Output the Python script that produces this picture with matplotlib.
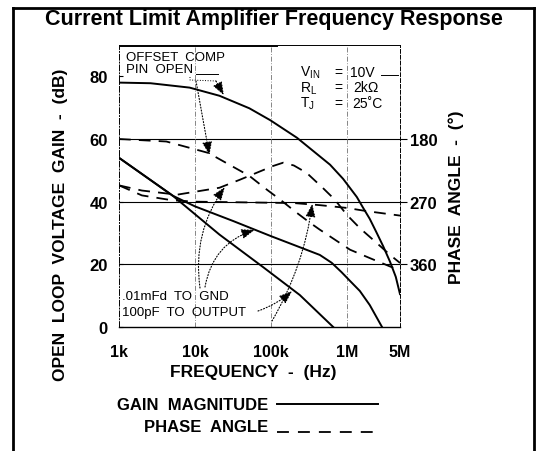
import matplotlib
matplotlib.use('Agg')
import matplotlib.pyplot as plt
from matplotlib.lines import Line2D
from matplotlib.ticker import NullLocator

plt.rcParams['font.family'] = ['Liberation Sans', 'DejaVu Sans']

# gain magnitude (dB)
freq_gain_open = [1e3, 2.6e3, 8.5e3, 21e3, 52e3, 98e3, 220e3, 600e3, 890e3,
                  1.35e6, 1.62e6, 2.0e6, 2.45e6, 3.0e6, 3.7e6, 4.4e6, 5.0e6]
gain_open = [78, 77.8, 76.4, 73.8, 69.8, 66.0, 60.4, 51.8, 47.3,
             41.5, 38.2, 34.5, 30.2, 25.8, 20.8, 16.0, 10.5]
freq_gain_100pf = [1e3, 5.1e3, 21e3, 80e3, 240e3, 660e3]
gain_100pf = [54, 41.9, 29.5, 19.0, 10.2, 0]
freq_gain_01mfd = [1e3, 5.1e3, 10e3, 32e3, 100e3, 200e3, 440e3, 630e3, 850e3,
                   1.12e6, 1.48e6, 2.0e6, 2.9e6]
gain_01mfd = [54, 41.9, 38.5, 33.8, 29, 26.2, 23, 20.5, 17.5, 14.5, 11.5, 7, 0]

# phase angle (deg)
freq_phase_open = [1e3, 4.2e3, 15e3, 52e3, 89e3, 132e3, 219e3, 324e3, 437e3,
                   1.1e6, 2.0e6, 5e6]
phase_open = [180, 183.6, 200, 233, 253, 267, 286, 300, 310, 339, 351, 369]
freq_phase_100pf = [1e3, 2e3, 5.8e3, 21e3, 39e3, 107e3, 145e3, 200e3, 295e3,
                    479e3, 692e3, 1e6, 1.48e6, 2.45e6, 3.7e6, 5e6]
phase_100pf = [246.6, 254, 260, 250, 238.5, 218.7, 214, 218, 228.6,
               250, 267, 289, 308, 329, 346.5, 358]
freq_phase_01mfd = [1e3, 2e3, 5e3, 10e3, 200e3, 440e3, 1e6, 1.8e6, 5e6]
phase_01mfd = [246.6, 261, 268, 270, 272, 275, 279, 283.5, 290]

xticks = [1e3, 1e4, 1e5, 1e6, 5e6]
xlabels = ['1k', '10k', '100k', '1M', '5M']
yticks = [0, 20, 40, 60, 80]
phase_ticks = [180, 270, 360]

W, H = 539, 452
fig = plt.figure(figsize=(W / 100, H / 100), dpi=100)


def fx(x):
    return x / W


def fy(y):
    return 1 - y / H


def px(x, y):
    return (x, H - y)


ax = fig.add_axes([fx(119), fy(328), 281 / W, 282 / H])
ax.set_xscale('log')
ax.set_xlim(1e3, 5e6)
ax.set_ylim(0, 90)

for g in [20, 40, 60]:
    ax.axhline(g, color='k', lw=0.8, zorder=1)
for f in [1e4, 1e5, 1e6]:
    ax.axvline(f, color='0.45', lw=0.6, ls=(0, (6, 2, 1, 2)), zorder=1)

ax.plot(freq_gain_open, gain_open, color='k', lw=1.4)
ax.plot(freq_gain_100pf, gain_100pf, color='k', lw=1.4)
ax.plot(freq_gain_01mfd, gain_01mfd, color='k', lw=1.4)

ax.set_xticks(xticks)
ax.set_xticklabels(xlabels, fontsize=11.5, fontweight='bold')
ax.xaxis.set_minor_locator(NullLocator())
ax.tick_params(axis='x', length=0, pad=12)
ax.set_yticks(yticks)
ax.set_yticklabels([str(v) for v in yticks], fontsize=12, fontweight='bold')
ax.tick_params(axis='y', length=3, direction='in', pad=8)

ax.spines['left'].set_linestyle((0, (6, 2, 1, 2)))
ax.spines['left'].set_linewidth(0.7)
ax.spines['right'].set_visible(False)
ax.spines['top'].set_linewidth(0.7)
ax.spines['bottom'].set_linewidth(1.0)

ax2 = ax.twinx()
ax2.set_ylim(450, 45)
ax2.set_xlim(1e3, 5e6)
for s in ['left', 'top', 'bottom']:
    ax2.spines[s].set_visible(False)
ax2.spines['right'].set_linestyle((0, (4, 2)))
ax2.spines['right'].set_linewidth(0.7)

for fr, ph in [(freq_phase_open, phase_open), (freq_phase_100pf, phase_100pf),
               (freq_phase_01mfd, phase_01mfd)]:
    ln, = ax2.plot(fr, ph, color='k', lw=1.3)
    ln.set_dashes((6.5, 4.5))

ax2.set_yticks(phase_ticks)
ax2.set_yticklabels([str(v) for v in phase_ticks], fontsize=12, fontweight='bold')
ax2.tick_params(axis='y', length=5, direction='out', width=0.8, pad=2)

# axis titles
fig.text(fx(274), fy(20), 'Current Limit Amplifier Frequency Response',
         ha='center', va='center', fontsize=15.5, fontweight='bold')
fig.text(fx(61), fy(225), 'OPEN  LOOP  VOLTAGE  GAIN  -  (dB)', rotation=90,
         ha='center', va='center', fontsize=12.5, fontweight='bold')
fig.text(fx(456), fy(197), 'PHASE  ANGLE  -  (\u00b0)', rotation=90,
         ha='center', va='center', fontsize=12.5, fontweight='bold')
fig.text(fx(253), fy(373), 'FREQUENCY  -  (Hz)',
         ha='center', va='center', fontsize=12.5, fontweight='bold')

# legend
fig.text(fx(268), fy(406), 'GAIN  MAGNITUDE', ha='right', va='center',
         fontsize=12, fontweight='bold')
fig.text(fx(268), fy(428), 'PHASE  ANGLE', ha='right', va='center',
         fontsize=12, fontweight='bold')
fig.add_artist(Line2D([fx(277), fx(378)], [fy(405), fy(405)], color='k', lw=1.4))
leg_dash = Line2D([fx(277), fx(373)], [fy(433), fy(433)], color='k', lw=1.3)
leg_dash.set_dashes((6.6, 5.0))
fig.add_artist(leg_dash)

# outer frame
for xs, ys in [([13, 13], [9, 452]), ([13, 534], [9, 9]), ([534, 534], [9, 452])]:
    fig.add_artist(Line2D([fx(v) for v in xs], [fy(v) for v in ys], color='k', lw=2))

# conditions
fs = 10
rows = [73, 88.5, 104]
fig.text(fx(300), fy(rows[0]), 'V$_\\mathregular{IN}$', va='center', fontsize=fs)
fig.text(fx(300), fy(rows[1]), 'R$_\\mathregular{L}$', va='center', fontsize=fs)
fig.text(fx(300), fy(rows[2]), 'T$_\\mathregular{J}$', va='center', fontsize=fs)
for yy in rows:
    fig.text(fx(334), fy(yy), '=', va='center', fontsize=fs)
fig.text(fx(350), fy(rows[0]), '10V', va='center', fontsize=fs)
fig.text(fx(353), fy(rows[1]), '2k\u03a9', va='center', fontsize=fs)
fig.text(fx(352), fy(rows[2]), '25\u02daC', va='center', fontsize=fs)
fig.add_artist(Line2D([fx(381), fx(398)], [fy(76), fy(76)], color='k', lw=0.7))

# annotations
fa = 9.5
fig.text(fx(126), fy(58), 'OFFSET  COMP', va='center', fontsize=fa)
fig.text(fx(126), fy(70), 'PIN  OPEN', va='center', fontsize=fa)
fig.add_artist(Line2D([fx(196), fx(218)], [fy(75), fy(75)], color='k', lw=0.7))
fig.add_artist(Line2D([fx(120), fx(277)], [fy(47), fy(47)], color='k', lw=0.7))
fig.add_artist(Line2D([fx(190), fx(190), fx(216)], [fy(78), fy(81), fy(82)],
                      color='k', lw=0.7, ls=':'))
fig.text(fx(122), fy(297), '.01mFd  TO  GND', va='center', fontsize=fa)
fig.text(fx(122), fy(313), '100pF  TO  OUTPUT', va='center', fontsize=fa)

arrow = dict(arrowstyle='-|>,head_length=0.8,head_width=0.3', ls=':', lw=0.8,
             color='k', shrinkA=0, shrinkB=0)


def pointer(axis, xy, start, rad=0.0):
    a = dict(arrow)
    a['connectionstyle'] = 'arc3,rad=%s' % rad
    axis.annotate('', xy=xy, xycoords='data', xytext=px(*start),
                  textcoords='figure pixels', arrowprops=a)


pointer(ax, (24e3, 74.0), (216, 82))
pointer(ax2, (15.5e3, 203), (196, 82))
pointer(ax, (61e3, 31.0), (205, 288), rad=-0.3)
pointer(ax2, (350e3, 273), (272, 322), rad=0.1)
pointer(ax2, (24.7e3, 249), (200, 289), rad=-0.2)
pointer(ax, (190e3, 11.5), (258, 312), rad=0.1)

fig.savefig('out.png', dpi=100)
